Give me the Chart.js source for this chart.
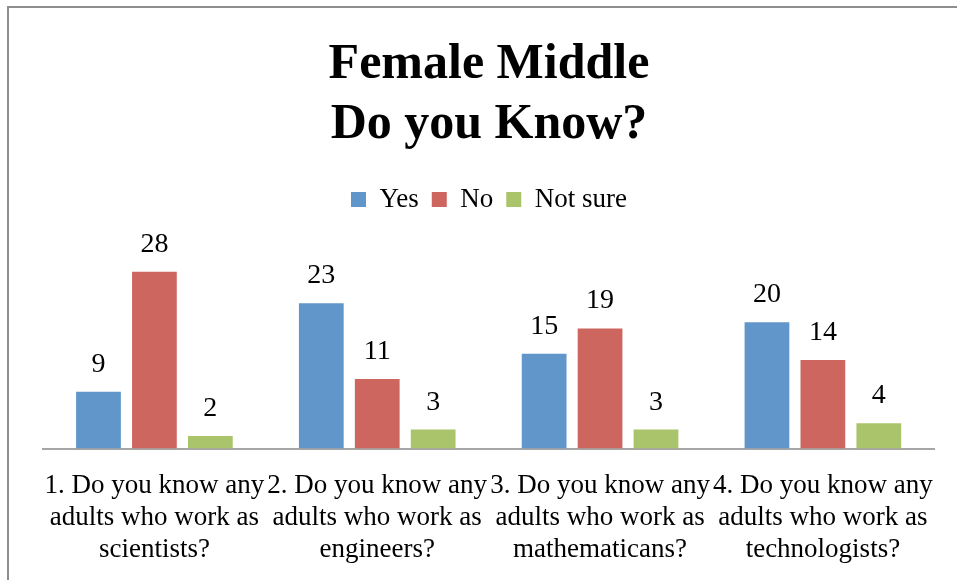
<!DOCTYPE html>
<html>
<head>
<meta charset="utf-8">
<script src="https://cdn.jsdelivr.net/npm/chart.js@4"></script>
<style>
  html, body { margin: 0; padding: 0; background: #fff; overflow: hidden; }
  #frame { position: absolute; left: 7px; top: 6px; width: 1100px; height: 800px; border: 2px solid #8e8e8e; }
  #wrap { position: absolute; left: 0; top: 0; width: 957px; height: 580px; overflow: hidden; }
</style>
</head>
<body>
<div id="frame"></div>
<div id="wrap"><canvas id="chart" width="957" height="600"></canvas></div>
<script>
  // Datos del gráfico
  const categories = [
    ['1. Do you know any', 'adults who work as', 'scientists?'],
    ['2. Do you know any', 'adults who work as', 'engineers?'],
    ['3. Do you know any', 'adults who work as', 'mathematicans?'],
    ['4. Do you know any', 'adults who work as', 'technologists?']
  ];
  const seriesNames = ['Yes', 'No', 'Not sure'];
  const yesValues = [9, 23, 15, 20];
  const noValues = [28, 11, 19, 14];
  const notSureValues = [2, 3, 3, 4];

  const COLORS = ['#6096ca', '#cd665f', '#aac46b'];
  const SERIF = "'Liberation Serif', 'Times New Roman', serif";

  // Etiquetas de valor encima de cada barra
  const valueLabels = {
    id: 'valueLabels',
    afterDatasetsDraw(chart) {
      const ctx = chart.ctx;
      ctx.save();
      ctx.font = '28px ' + SERIF;
      ctx.fillStyle = '#000';
      ctx.textAlign = 'center';
      ctx.textBaseline = 'alphabetic';
      chart.data.datasets.forEach((ds, i) => {
        chart.getDatasetMeta(i).data.forEach((bar, j) => {
          ctx.fillText(String(ds.data[j]), bar.x, bar.y - 20);
        });
      });
      ctx.restore();
    }
  };

  new Chart(document.getElementById('chart'), {
    type: 'bar',
    data: {
      labels: categories,
      datasets: [
        { label: seriesNames[0], data: yesValues, backgroundColor: COLORS[0] },
        { label: seriesNames[1], data: noValues, backgroundColor: COLORS[1] },
        { label: seriesNames[2], data: notSureValues, backgroundColor: COLORS[2] }
      ]
    },
    options: {
      responsive: false,
      animation: false,
      devicePixelRatio: 1,
      layout: { padding: { left: 43, right: 22, top: 0, bottom: 12.5 } },
      datasets: { bar: { categoryPercentage: 0.753, barPercentage: 0.8 } },
      scales: {
        x: {
          grid: { display: false, drawTicks: false },
          border: { display: true, color: '#a6a6a6', width: 2 },
          ticks: {
            color: '#000',
            font: { family: SERIF, size: 27, lineHeight: 1.185 },
            padding: 21.5,
            maxRotation: 0,
            autoSkip: false
          }
        },
        y: { display: false, min: 0, max: 35.7 }
      },
      plugins: {
        title: {
          display: true,
          text: ['Female Middle', 'Do you Know?'],
          color: '#000',
          font: { family: SERIF, size: 50, weight: 'bold', lineHeight: 1.2 },
          padding: { top: 35, bottom: 18 }
        },
        legend: {
          position: 'top',
          labels: {
            color: '#000',
            font: { family: SERIF, size: 27 },
            boxWidth: 15,
            boxHeight: 15,
            padding: 13
          }
        },
        tooltip: { enabled: false }
      }
    },
    plugins: [valueLabels]
  });
</script>
</body>
</html>
